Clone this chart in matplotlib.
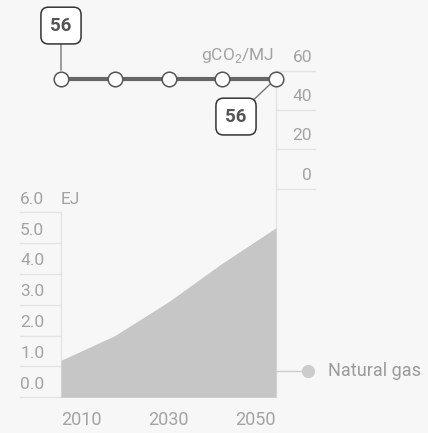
import matplotlib

matplotlib.use("Agg")
import matplotlib.pyplot as plt
from matplotlib.transforms import blended_transform_factory

plt.rcParams["font.family"] = ["Roboto", "DejaVu Sans"]
plt.rcParams["mathtext.fontset"] = "custom"
plt.rcParams["mathtext.rm"] = "Roboto"

# data
years = [2010, 2020, 2030, 2040, 2050]
gas_ej = [1.2, 2.0, 3.1, 4.35, 5.5]
intensity = [56, 56, 56, 56, 56]
ej_ticks = [0, 1, 2, 3, 4, 5, 6]
co2_ticks = [0, 20, 40, 60]
year_labels = [2010, 2030, 2050]

BG = "#f7f7f7"
GRID = "#e3e3e3"
LABEL = "#a3a3a3"
W, H = 428, 433

fig = plt.figure(figsize=(W / 100, H / 100), dpi=100)
fig.patch.set_facecolor(BG)


def px_axes(left, top, right, bottom):
    return fig.add_axes([left / W, 1 - bottom / H, (right - left) / W, (bottom - top) / H])


# ---- top: carbon intensity line
ax_t = px_axes(61, 70.7, 276, 188.7)
ax_t.set_xlim(2010, 2050)
ax_t.set_ylim(0, 60)
ax_t.axis("off")
tr = blended_transform_factory(ax_t.transAxes, ax_t.transData)
for v in co2_ticks:
    ax_t.plot([1.0, 1.18], [v, v], transform=tr, color=GRID, lw=1, clip_on=False, zorder=0)
    ax_t.text(1.167, v + 3.0, f"{v}", transform=tr, ha="right", va="bottom",
              fontsize=12.5, color=LABEL)
ax_t.text(0.992, 63.0, r"gCO$_2$/MJ", transform=tr, ha="right", va="bottom",
          fontsize=12.5, color=LABEL)
ax_t.plot(years, intensity, color="#666666", lw=3, zorder=2, clip_on=False)
ax_t.plot(years, intensity, ls="none", marker="o", ms=10.5, mfc="white",
          mec="#555555", mew=1.1, zorder=3, clip_on=False)

box = dict(boxstyle="round,pad=0.5,rounding_size=0.4", fc="white", ec="#333333", lw=1.1)
ax_t.annotate(f"{intensity[0]}", xy=(years[0], intensity[0]), xytext=(0, 53),
              textcoords="offset pixels", ha="center", va="center", fontsize=13.5,
              fontweight="bold", color="#555555", bbox=box, annotation_clip=False,
              arrowprops=dict(arrowstyle="-", color="#777777", lw=1, shrinkA=0, shrinkB=6))
ax_t.annotate(f"{intensity[-1]}", xy=(years[-1], intensity[-1]), xytext=(-40, -38),
              textcoords="offset pixels", ha="center", va="center", fontsize=13.5,
              fontweight="bold", color="#555555", bbox=box, annotation_clip=False,
              arrowprops=dict(arrowstyle="-", color="#777777", lw=1, shrinkA=0, shrinkB=6))

# ---- bottom: energy use area
ax_b = px_axes(61, 212.3, 276, 397.3)
ax_b.set_xlim(2010, 2050)
ax_b.set_ylim(0, 6)
ax_b.axis("off")
trb = blended_transform_factory(ax_b.transAxes, ax_b.transData)
for v in ej_ticks:
    ax_b.plot([-0.19, 0], [v, v], transform=trb, color=GRID, lw=1, clip_on=False, zorder=0)
    ax_b.text(-0.19, v + 0.18, f"{v:.1f}", transform=trb, ha="left", va="bottom",
              fontsize=12.5, color=LABEL)
ax_b.text(0.0, 6.18, "EJ", transform=trb, ha="left", va="bottom", fontsize=12.5, color=LABEL)
ax_b.plot([0, 0], [0, 6], transform=trb, color=GRID, lw=1, clip_on=False, zorder=0)
# top chart axis line running down behind the area
fig.add_artist(plt.Line2D([276 / W, 276 / W], [1 - 70.7 / H, 1 - 397.3 / H],
                          color=GRID, lw=1, zorder=0))
ax_b.fill_between(years, 0, gas_ej, color="#c6c6c6", lw=0, zorder=2)

# legend marker for the series
ax_b.plot([1.0, 1.15], [0.86, 0.86], transform=trb, color="#cccccc", lw=1, clip_on=False)
ax_b.plot([1.15], [0.86], transform=trb, marker="o", ms=8.5, color="#cccccc", clip_on=False)
ax_b.text(1.24, 0.86, "Natural gas", transform=trb, ha="left", va="center",
          fontsize=13, color="#9a9a9a")

for i, y in enumerate(year_labels):
    ha = "left" if i == 0 else ("right" if i == len(year_labels) - 1 else "center")
    ax_b.annotate(f"{y}", xy=(y, 0), xytext=(0, -23), textcoords="offset pixels",
                  ha=ha, va="center", fontsize=13, color=LABEL, annotation_clip=False)

fig.savefig("out.png", dpi=100, facecolor=BG)
